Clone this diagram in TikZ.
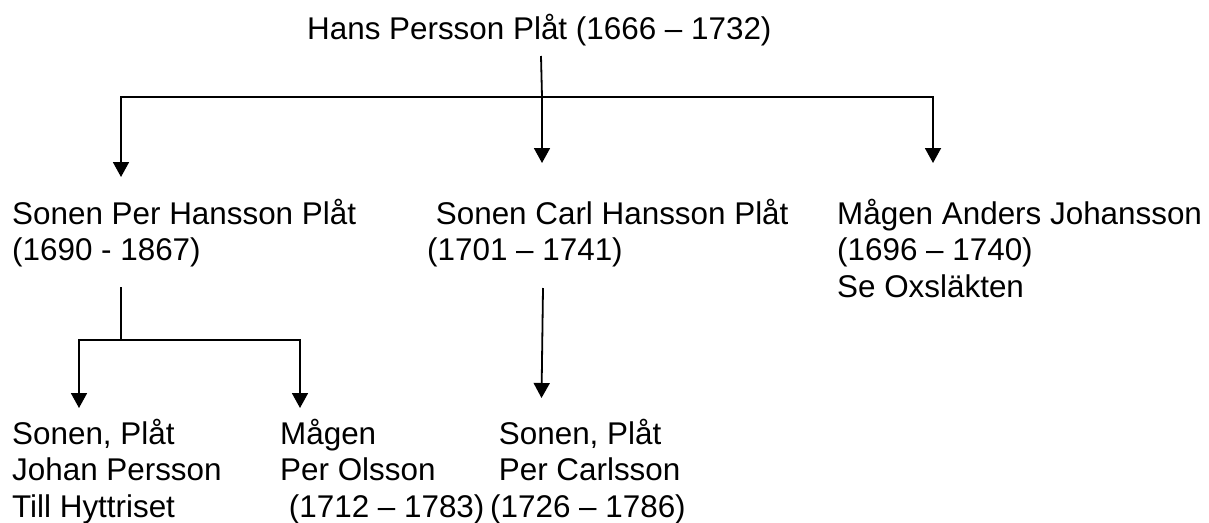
\documentclass[tikz,border=0pt]{standalone}
\usepackage{fontspec}
\setmainfont{Liberation Sans}
\usetikzlibrary{arrows.meta}

\tikzset{
  person/.style={anchor=base west, inner sep=0pt, align=left,
    font=\fontsize{31.4}{36.5}\selectfont},
  link/.style={line width=1.8pt},
  down/.style={link, -{Triangle[width=16pt,length=15pt]}},
}

\begin{document}
\begin{tikzpicture}[x=1pt,y=-1pt]
                \useasboundingbox (0,0) rectangle (1209,522);
                % anchors sit on the last line of each block
                \node [person] (hans) at (307,39) {Hans Persson Plåt (1666 – 1732)};
                \node [person] (per) at (12,260.5) {Sonen Per Hansson Plåt\\(1690 - 1867)};
                \node [person] (carl) at (427,260.5) {\ Sonen Carl Hansson Plåt\\(1701 – 1741)};
                \node [person] (anders) at (837,297) {Mågen Anders Johansson\\(1696 – 1740)\\Se Oxsläkten};
                \node [person] (johan) at (12,517) {Sonen, Plåt\\Johan Persson\\Till Hyttriset};
                \node [person] (olsson) at (280,517) {Mågen\\Per Olsson\\\ (1712 – 1783)};
                \node [person] (carlsson) at (490,517) {\ Sonen, Plåt\\\ Per Carlsson\\(1726 – 1786)};
                \coordinate (hansfoot) at (541,56);
                \coordinate (bar) at (542,97);
                \coordinate (tipper) at (121,177);
                \coordinate (tipcarl) at (542,163);
                \coordinate (tipanders) at (933,163);
                \coordinate (perfoot) at (121,287);
                \coordinate (lowbar) at (121,340);
                \coordinate (tipjohan) at (79,408);
                \coordinate (tipolsson) at (300,408);
                \coordinate (carlfoot) at (543,288);
                \coordinate (tipcarlsson) at (541.5,398);
                \draw [link] (hansfoot) to (bar);
                \draw [down] (bar) -| (tipper);
                \draw [down] (bar) -| (tipanders);
                \draw [down] (bar) to (tipcarl);
                \draw [link] (perfoot) to (lowbar);
                \draw [down] (lowbar) -| (tipjohan);
                \draw [down] (lowbar) -| (tipolsson);
                \draw [down] (carlfoot) to (tipcarlsson);
            \end{tikzpicture}
\end{document}
